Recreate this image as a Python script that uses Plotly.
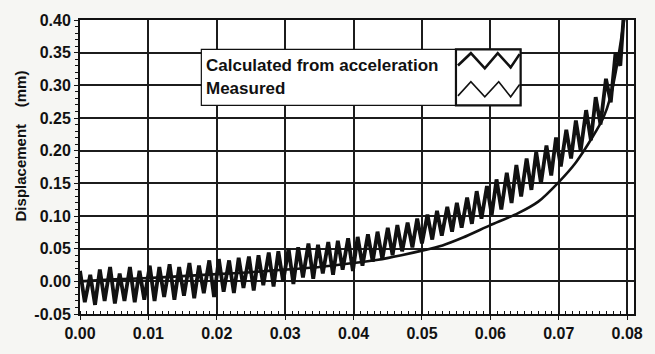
import plotly.graph_objects as go

# ---------------- data ----------------
# Measured (smooth) curve
MEAS_X = [0.000, 0.005, 0.010, 0.015, 0.020, 0.025, 0.030, 0.035, 0.040, 0.0436,
          0.047, 0.050, 0.053, 0.056, 0.060, 0.064, 0.067, 0.070, 0.0725, 0.075,
          0.0765, 0.0775, 0.0785, 0.0794, 0.0802]
MEAS_Y = [0.000, 0.003, 0.005, 0.008, 0.011, 0.014, 0.018, 0.022, 0.028, 0.033,
          0.040, 0.047, 0.055, 0.067, 0.086, 0.104, 0.122, 0.152, 0.182, 0.222,
          0.250, 0.280, 0.330, 0.390, 0.440]

# Calculated from acceleration (oscillating), peaks and troughs read per cycle
CALC_HI_X = [0.0000, 0.0015, 0.0029, 0.0044, 0.0058, 0.0073, 0.0087, 0.0102, 0.0116, 0.0131,
             0.0145, 0.0160, 0.0174, 0.0189, 0.0203, 0.0218, 0.0232, 0.0247, 0.0261, 0.0276,
             0.0290, 0.0305, 0.0319, 0.0334, 0.0348, 0.0363, 0.0377, 0.0392, 0.0406, 0.0421,
             0.0435, 0.0450, 0.0464, 0.0479, 0.0493, 0.0508, 0.0522, 0.0537, 0.0551, 0.0566,
             0.0580, 0.0595, 0.0609, 0.0624, 0.0638, 0.0653, 0.0667, 0.0682, 0.0696, 0.0711,
             0.0725, 0.0740, 0.0754, 0.0769, 0.0783, 0.0797]
CALC_HI_Y = [0.016, 0.010, 0.018, 0.022, 0.012, 0.022, 0.016, 0.024, 0.022, 0.026,
             0.022, 0.028, 0.024, 0.032, 0.034, 0.032, 0.036, 0.038, 0.040, 0.044,
             0.046, 0.050, 0.052, 0.058, 0.056, 0.060, 0.062, 0.066, 0.068, 0.072,
             0.076, 0.082, 0.086, 0.090, 0.096, 0.102, 0.108, 0.114, 0.120, 0.128,
             0.138, 0.146, 0.156, 0.166, 0.178, 0.188, 0.198, 0.208, 0.220, 0.232,
             0.246, 0.262, 0.282, 0.310, 0.350, 0.440]
CALC_LO_X = [0.0007, 0.0022, 0.0036, 0.0051, 0.0065, 0.0080, 0.0094, 0.0109, 0.0123, 0.0138,
             0.0152, 0.0167, 0.0181, 0.0196, 0.0210, 0.0225, 0.0239, 0.0254, 0.0268, 0.0283,
             0.0297, 0.0312, 0.0326, 0.0341, 0.0355, 0.0370, 0.0384, 0.0399, 0.0413, 0.0428,
             0.0442, 0.0457, 0.0471, 0.0486, 0.0500, 0.0515, 0.0529, 0.0544, 0.0558, 0.0573,
             0.0587, 0.0602, 0.0616, 0.0631, 0.0645, 0.0660, 0.0674, 0.0689, 0.0703, 0.0718,
             0.0732, 0.0747, 0.0761, 0.0776, 0.0790, 0.0800]
CALC_LO_Y = [-0.032, -0.036, -0.030, -0.034, -0.030, -0.032, -0.028, -0.030, -0.024, -0.028,
             -0.022, -0.026, -0.018, -0.024, -0.016, -0.018, -0.010, -0.014, -0.006, -0.008,
             0.000, -0.004, 0.006, 0.004, 0.012, 0.010, 0.018, 0.016, 0.024, 0.030,
             0.034, 0.040, 0.046, 0.052, 0.058, 0.064, 0.070, 0.076, 0.082, 0.088,
             0.096, 0.102, 0.110, 0.120, 0.130, 0.140, 0.150, 0.162, 0.176, 0.188,
             0.200, 0.216, 0.240, 0.274, 0.330, 0.410]

X_TICKS = [0.00, 0.01, 0.02, 0.03, 0.04, 0.05, 0.06, 0.07, 0.08]
X_TICK_TEXT = ["0.00", "0.01", "0.02", "0.03", "0.04", "0.05", "0.06", "0.07", "0.08"]
Y_TICKS = [-0.05, 0.00, 0.05, 0.10, 0.15, 0.20, 0.25, 0.30, 0.35, 0.40]
Y_TICK_TEXT = ["-0.05", "0.00", "0.05", "0.10", "0.15", "0.20", "0.25", "0.30", "0.35", "0.40"]

LEGEND_LABELS = ["Calculated from acceleration", "Measured"]
Y_TITLE = "Displacement\u00a0\u00a0\u00a0\u00a0(mm)"

# interleave peaks/troughs
calc_x, calc_y = [], []
for hx, hy, lx, ly in zip(CALC_HI_X, CALC_HI_Y, CALC_LO_X, CALC_LO_Y):
    calc_x += [hx, lx]
    calc_y += [hy, ly]

# ---------------- layout geometry ----------------
W, H = 655, 354
ML, MR, MT, MB = 80, 18, 12, 32
PW, PH = W - ML - MR, H - MT - MB


def px(xp):
    return (xp - ML) / PW


def py(yp):
    return (H - MB - yp) / PH


FONT = "Liberation Sans, Arial, Helvetica, sans-serif"
INK = "#111111"

fig = go.Figure()
fig.add_trace(go.Scatter(x=MEAS_X, y=MEAS_Y, mode="lines", name=LEGEND_LABELS[1],
                         line=dict(color=INK, width=2.6, shape="spline", smoothing=0.6),
                         showlegend=False))
fig.add_trace(go.Scatter(x=calc_x, y=calc_y, mode="lines", name=LEGEND_LABELS[0],
                         line=dict(color=INK, width=3.8), showlegend=False))

axis_common = dict(showline=True, linecolor=INK, linewidth=2, mirror=True,
                   showgrid=True, gridcolor="#1c1c1c", gridwidth=1.6,
                   zeroline=False, ticks="outside", ticklen=4, tickcolor=INK,
                   tickfont=dict(family=FONT, size=16, color=INK, weight="bold"))

fig.update_xaxes(range=[0, 0.081], tickvals=X_TICKS, ticktext=X_TICK_TEXT,
                 minor=dict(dtick=0.001, ticks="inside", ticklen=3, tickcolor=INK, showgrid=False),
                 **axis_common)
fig.update_yaxes(range=[-0.05, 0.40], tickvals=Y_TICKS, ticktext=Y_TICK_TEXT,
                 minor=dict(dtick=0.01, ticks="outside", ticklen=3, tickcolor=INK, showgrid=False),
                 **axis_common)

shapes = []
# legend outer box
shapes.append(dict(type="rect", xref="paper", yref="paper",
                   x0=px(202), x1=px(523), y0=py(102), y1=py(43),
                   line=dict(color=INK, width=1.2), fillcolor="white", layer="above"))
# swatch box
shapes.append(dict(type="rect", xref="paper", yref="paper",
                   x0=px(458), x1=px(523), y0=py(102), y1=py(43),
                   line=dict(color=INK, width=2.2), fillcolor="white", layer="above"))
zig_top = [(460, 60), (473, 47), (487, 63), (500, 47), (513, 62), (522, 48)]
zig_bot = [(460, 92), (473, 77), (487, 93), (501, 77), (513, 93), (522, 80)]
for pts, w in ((zig_top, 2.6), (zig_bot, 1.6)):
    path = "M " + " L ".join(f"{px(a):.5f},{py(b):.5f}" for a, b in pts)
    shapes.append(dict(type="path", xref="paper", yref="paper", path=path,
                       line=dict(color=INK, width=w), layer="above"))

annotations = [
    dict(text=LEGEND_LABELS[0], xref="paper", yref="paper", x=px(205), y=py(60),
         xanchor="left", yanchor="middle", showarrow=False,
         font=dict(family=FONT, size=17, color=INK, weight="bold")),
    dict(text=LEGEND_LABELS[1], xref="paper", yref="paper", x=px(205), y=py(84),
         xanchor="left", yanchor="middle", showarrow=False,
         font=dict(family=FONT, size=17, color=INK, weight="bold")),
    dict(text=Y_TITLE, xref="paper", yref="paper", x=px(20), y=py(145),
         xanchor="center", yanchor="middle", textangle=-90, showarrow=False,
         font=dict(family=FONT, size=15, color=INK, weight="bold")),
]

fig.update_layout(width=W, height=H, margin=dict(l=ML, r=MR, t=MT, b=MB),
                  paper_bgcolor="#f6f6f3", plot_bgcolor="white",
                  shapes=shapes, annotations=annotations, showlegend=False)

fig.write_html("out.html")
